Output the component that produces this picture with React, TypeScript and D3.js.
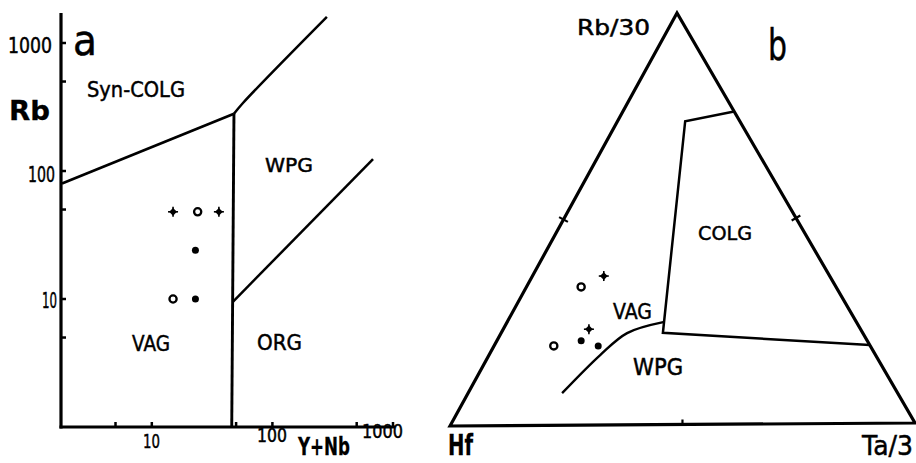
import React from "react";
import * as d3 from "d3";

// ---- Panel a: Rb vs Y+Nb (log–log) ----
const xTicksMajor = [10, 100, 1000];
const xTicksMinor = [5, 50, 500];
const yTicksMajor = [10, 100, 1000];
const yTicksMinor = [5, 50, 500];
const xTickLabels = ["10", "100", "1000"];
const yTickLabels = ["10", "100", "1000"];

// sample symbols and values
const aSymbols = ["plus", "circle", "plus", "dot", "circle", "dot"];
const aYNb = [15, 24, 36, 23, 15, 23];
const aRb = [48, 48, 48, 24, 10, 10];

// field boundaries [Y+Nb, Rb]
const synColgLine: [number, number][] = [[1.8, 80], [48, 280]];
const vagWpgLine: [number, number][] = [[48, 280], [46, 1]];
const upperLine: [number, number][] = [[48, 280], [57, 340], [283, 1600]];
const wpgOrgLine: [number, number][] = [[47, 9.5], [683, 124]];

// ---- Panel b: Hf – Rb/30 – Ta/3 ternary ----
const bSymbols = ["plus", "circle", "plus", "circle", "dot", "dot"];
const bHf = [48.4, 54.6, 58.2, 67.8, 61.3, 58.3];
const bRb30 = [36.2, 33.6, 23.3, 19.3, 20.5, 19.2];
const bTa3 = [15.4, 11.8, 18.5, 12.9, 18.2, 22.5];

// [Hf, Rb/30, Ta/3]
const colgField: [number, number, number][] = [
  [0, 76, 24],
  [11.7, 73.7, 14.6],
  [42.8, 22.3, 34.9],
  [0, 19, 81],
];
const vagWpgCurve: [number, number, number][] = [
  [41.4, 24.9, 33.7],
  [50.5, 22.3, 27.2],
  [59.0, 17.0, 24.0],
  [71.9, 7.8, 20.3],
];

const W = 916;
const H = 463;

const FONT = "'DejaVu Sans', 'Liberation Sans', sans-serif";

function Marker({ type, x, y }: { type: string; x: number; y: number }) {
  if (type === "circle") {
    return <circle cx={x} cy={y} r={3.6} fill="#fff" stroke="#000" strokeWidth={2.3} />;
  }
  if (type === "dot") {
    return <circle cx={x} cy={y} r={3.5} fill="#000" />;
  }
  const square = d3.symbol().type(d3.symbolSquare).size(30)()!;
  return (
    <g transform={`translate(${x},${y})`}>
      <path d={square} transform="rotate(45)" fill="#000" />
      <line x1={-5} x2={5} y1={0} y2={0} stroke="#000" strokeWidth={1.6} />
      <line x1={0} x2={0} y1={-5} y2={5} stroke="#000" strokeWidth={1.6} />
    </g>
  );
}

function Label({
  x, y, w, size, text, bold,
}: { x: number; y: number; w: number; size: number; text: string; bold?: boolean }) {
  return (
    <text
      x={x}
      y={y}
      fontSize={size}
      fontFamily={FONT}
      fontWeight={bold ? "bold" : "normal"}
      textLength={w}
      lengthAdjust="spacingAndGlyphs"
      fill="#000"
      stroke="#000"
      strokeWidth={bold ? 0.3 : 0.5}
    >
      {text}
    </text>
  );
}

export default function App() {
  // panel a scales
  const x = d3.scaleLog().domain([1.8, 1000]).range([62, 393]);
  const y = d3.scaleLog().domain([1, 1000]).range([427, 43]);
  const axX0 = 61;
  const axY0 = 427;

  const lineA = d3
    .line<[number, number]>()
    .x((d) => x(d[0]))
    .y((d) => y(d[1]));
  const curveA = d3
    .line<[number, number]>()
    .x((d) => x(d[0]))
    .y((d) => y(d[1]))
    .curve(d3.curveCatmullRom);

  // panel b ternary projection
  const L: [number, number] = [450, 426];
  const T: [number, number] = [677, 13];
  const R: [number, number] = [915, 423];
  const tern = (hf: number, rb: number, ta: number): [number, number] => {
    const s = hf + rb + ta;
    const a = hf / s, b = rb / s, c = ta / s;
    return [a * L[0] + b * T[0] + c * R[0], a * L[1] + b * T[1] + c * R[1]];
  };
  const lineB = d3.line<[number, number]>();
  const curveB = d3.line<[number, number]>().curve(d3.curveCatmullRom.alpha(0.5));

  const edgeTick = (p: [number, number], q: [number, number], len: number, both: boolean) => {
    const mx = (p[0] + q[0]) / 2, my = (p[1] + q[1]) / 2;
    const dx = q[0] - p[0], dy = q[1] - p[1];
    const n = Math.hypot(dx, dy);
    const nx = -dy / n, ny = dx / n;
    return (
      <line
        x1={mx - (both ? nx * len : 0)}
        y1={my - (both ? ny * len : 0)}
        x2={mx + nx * len}
        y2={my + ny * len}
        stroke="#000"
        strokeWidth={2.2}
      />
    );
  };

  return (
    <svg
      width={W}
      height={H}
      viewBox={`0 0 ${W} ${H}`}
      style={{ position: "absolute", left: 0, top: 0, background: "#fff" }}
    >
      <rect width={W} height={H} fill="#fff" />

      {/* ---------- Panel a ---------- */}
      <line x1={axX0} y1={13} x2={axX0} y2={axY0 + 1.5} stroke="#000" strokeWidth={3.2} />
      <line x1={axX0 - 1.5} y1={axY0} x2={395} y2={axY0} stroke="#000" strokeWidth={3.2} />
      {[...yTicksMajor, ...yTicksMinor].map((t) => (
        <line key={"yt" + t} x1={axX0} x2={axX0 + 5} y1={y(t)} y2={y(t)} stroke="#000" strokeWidth={2.5} />
      ))}
      {[...xTicksMajor, ...xTicksMinor].map((t) => (
        <line key={"xt" + t} x1={x(t)} x2={x(t)} y1={axY0} y2={axY0 - 5} stroke="#000" strokeWidth={2.5} />
      ))}

      <path d={lineA(synColgLine)!} fill="none" stroke="#000" strokeWidth={2.7} />
      <path d={lineA(vagWpgLine)!} fill="none" stroke="#000" strokeWidth={2.9} />
      <path d={curveA(upperLine)!} fill="none" stroke="#000" strokeWidth={2.5} />
      <path d={lineA(wpgOrgLine)!} fill="none" stroke="#000" strokeWidth={2.5} />

      {aSymbols.map((s, i) => (
        <Marker key={"a" + i} type={s} x={x(aYNb[i])} y={y(aRb[i])} />
      ))}

      {/* axis labels */}
      <Label x={8} y={53} w={44} size={21} text={yTickLabels[2]} />
      <Label x={28} y={182} w={27} size={21} text={yTickLabels[1]} />
      <Label x={42} y={308} w={15} size={21} text={yTickLabels[0]} />
      <Label x={143} y={448} w={17} size={20} text={xTickLabels[0]} />
      <Label x={257} y={442} w={30} size={19} text={xTickLabels[1]} />
      <Label x={362} y={438} w={41} size={20} text={xTickLabels[2]} />
      <Label x={9} y={120} w={41} size={27} text="Rb" bold />
      <Label x={298} y={455} w={52} size={24} text="Y+Nb" bold />
      <Label x={73} y={55} w={24} size={42} text="a" />

      {/* field names */}
      <Label x={87} y={97} w={98} size={22} text="Syn-COLG" />
      <Label x={265} y={172} w={48} size={20} text="WPG" />
      <Label x={132} y={351} w={38} size={22} text="VAG" />
      <Label x={257} y={350} w={45} size={22} text="ORG" />

      {/* ---------- Panel b ---------- */}
      <path
        d={lineB([L, T, R])! + "Z"}
        fill="none"
        stroke="#000"
        strokeWidth={3.2}
        strokeLinejoin="miter"
      />
      {edgeTick(L, T, 5, true)}
      {edgeTick(T, R, 5, true)}
      {edgeTick(R, L, 5, false)}

      <path
        d={lineB(colgField.map((p) => tern(p[0], p[1], p[2])))!}
        fill="none"
        stroke="#000"
        strokeWidth={2.5}
      />
      <path
        d={curveB(vagWpgCurve.map((p) => tern(p[0], p[1], p[2])))!}
        fill="none"
        stroke="#000"
        strokeWidth={2.4}
      />

      {bSymbols.map((s, i) => {
        const [px, py] = tern(bHf[i], bRb30[i], bTa3[i]);
        return <Marker key={"b" + i} type={s} x={px} y={py} />;
      })}

      <Label x={577} y={35} w={73} size={21} text="Rb/30" />
      <Label x={768} y={60} w={19} size={42} text="b" />
      <Label x={698} y={240} w={54} size={20} text="COLG" />
      <Label x={613} y={319} w={39} size={22} text="VAG" />
      <Label x={633} y={375} w={50} size={23} text="WPG" />
      <Label x={448} y={455} w={25} size={28} text="Hf" bold />
      <Label x={862} y={455} w={51} size={27} text="Ta/3" />
    </svg>
  );
}
